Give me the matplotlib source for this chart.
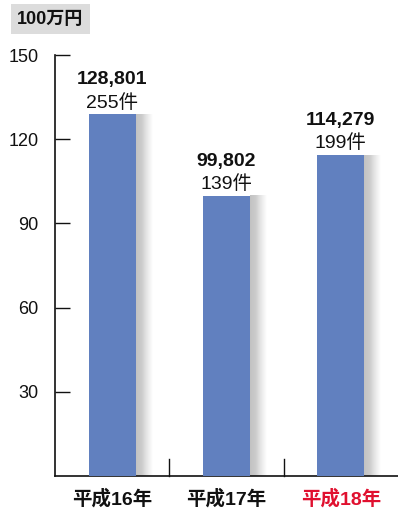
import numpy as np
import matplotlib.pyplot as plt
from matplotlib.colors import LinearSegmentedColormap

plt.rcParams['font.family'] = ['Liberation Sans', 'Noto Sans CJK JP', 'DejaVu Sans']

years = ['平成16年', '平成17年', '平成18年']
amounts = [128.801, 99.802, 114.279]  # 100万円
amount_labels = ['128,801', '99,802', '114,279']
counts = ['255件', '139件', '199件']
year_colors = ['#111111', '#111111', '#e0102f']
yticks = [30, 60, 90, 120, 150]

bar_color = '#6180bf'
shade = LinearSegmentedColormap.from_list('shade', ['#c2c2c2', '#cccccc', '#e8e8e8', '#ffffff'])

fig = plt.figure(figsize=(3.98, 5.15), dpi=100)
ax = fig.add_axes([55 / 398, 39 / 515, 343 / 398, 421 / 515])

width = 0.41
xs = np.arange(len(amounts)) + 0.5
ax.bar(xs, amounts, width=width, color=bar_color, zorder=3)

# soft shadow on the right side of each bar
grad = np.linspace(0, 1, 64).reshape(1, -1)
for x, v in zip(xs, amounts):
    ax.imshow(grad, cmap=shade, aspect='auto', zorder=2,
              extent=[x + width / 2, x + width / 2 + 0.14, 0, v])

for x, v, lab, cnt in zip(xs, amounts, amount_labels, counts):
    ax.annotate(lab, (x, v), xytext=(0, 19), textcoords='offset points',
                ha='center', va='bottom', fontsize=14, fontweight='bold', color='#111111')
    ax.annotate(cnt, (x, v), xytext=(0, 2), textcoords='offset points',
                ha='center', va='bottom', fontsize=14, color='#111111')

ax.set_xlim(0, 3)
ax.set_ylim(0, 150)
ax.spines['top'].set_visible(False)
ax.spines['right'].set_visible(False)
for s in ['left', 'bottom']:
    ax.spines[s].set_color('#111111')
    ax.spines[s].set_linewidth(1.2)

ax.set_yticks(yticks)
ax.set_yticklabels([str(t) for t in yticks], fontsize=13)
ax.tick_params(axis='y', direction='in', length=11, width=1, pad=12, colors='#111111')
ax.set_xticks([])

# category separators rising from the baseline
for b in [1, 2]:
    ax.plot([b, b], [0, 6], color='#111111', lw=1, clip_on=False, zorder=4)

for x, name, c in zip(xs, years, year_colors):
    ax.text(x, -4.5, name, ha='center', va='top', fontsize=14, fontweight='bold', color=c)

fig.text(17 / 398, 1 - 19 / 515, '100万円', ha='left', va='center', fontsize=13,
         fontweight='bold', color='#111111',
         bbox=dict(boxstyle='square,pad=0.35', fc='#dcdcdc', ec='none'))

fig.savefig('out.png', dpi=100)
